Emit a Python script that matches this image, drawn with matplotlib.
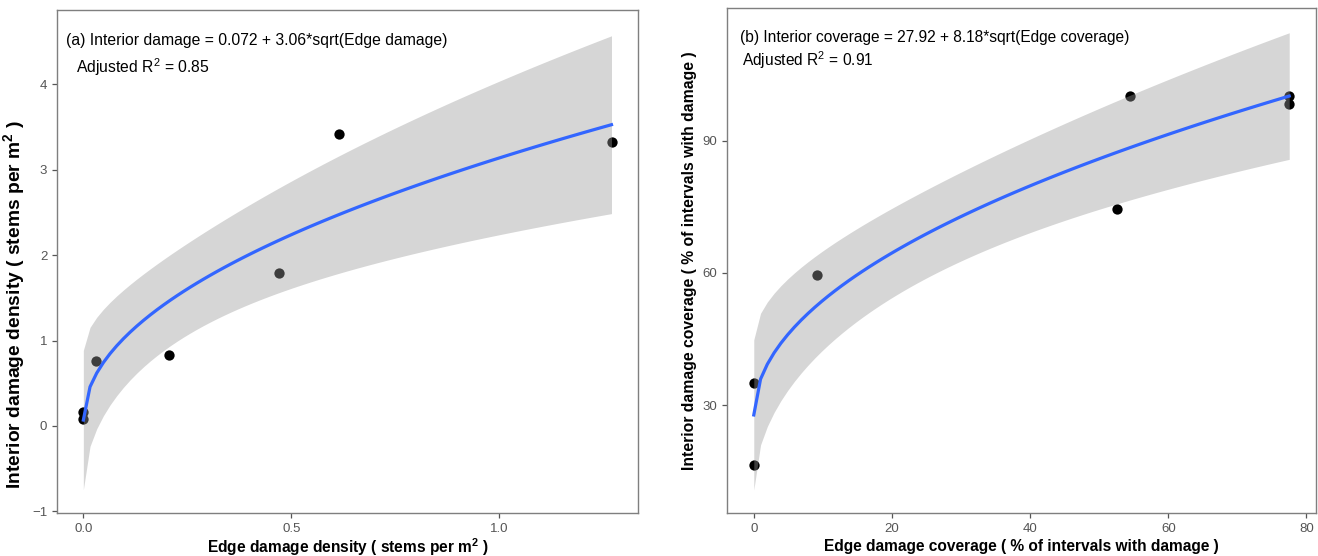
import matplotlib
matplotlib.use("Agg")
import matplotlib.pyplot as plt
import numpy as np

plt.rcParams['font.family'] = ['Liberation Sans', 'DejaVu Sans']
plt.rcParams['mathtext.fontset'] = 'custom'
plt.rcParams['mathtext.rm'] = 'Liberation Sans'
plt.rcParams['mathtext.default'] = 'regular'

# (a) damage density, stems per m2
edge_density = [0.0, 0.0, 0.03, 0.205, 0.47, 0.615, 1.27]
interior_density = [0.16, 0.08, 0.76, 0.83, 1.79, 3.42, 3.33]

# (b) damage coverage, % of intervals with damage
edge_cover = [0.0, 0.0, 9.2, 52.6, 54.5, 77.5, 77.5]
interior_cover = [35.0, 16.5, 59.5, 74.6, 100.2, 100.2, 98.4]

x_ticks_a = [0.0, 0.5, 1.0]
x_labels_a = ['0.0', '0.5', '1.0']
y_ticks_a = [-1, 0, 1, 2, 3, 4]
x_ticks_b = [0, 20, 40, 60, 80]
y_ticks_b = [30, 60, 90]

T975_DF5 = 2.5706  # t quantile, 95% CI, n=7 -> df=5


def sqrt_fit(x, y, n=80):
    # lm(y ~ sqrt(x)) with 95% confidence band, like geom_smooth
    x = np.asarray(x, float)
    y = np.asarray(y, float)
    X = np.column_stack([np.ones_like(x), np.sqrt(x)])
    beta, *_ = np.linalg.lstsq(X, y, rcond=None)
    resid = y - X @ beta
    s2 = resid @ resid / (len(x) - 2)
    cov = s2 * np.linalg.inv(X.T @ X)
    xg = np.linspace(x.min(), x.max(), n)
    Xg = np.column_stack([np.ones_like(xg), np.sqrt(xg)])
    yg = Xg @ beta
    se = np.sqrt(np.einsum('ij,jk,ik->i', Xg, cov, Xg))
    return xg, yg, yg - T975_DF5 * se, yg + T975_DF5 * se


def draw(ax, x, y):
    ax.scatter(x, y, s=55, color='black', zorder=2, linewidths=0)
    xg, yg, lo, hi = sqrt_fit(x, y)
    ax.fill_between(xg, lo, hi, color='#999999', alpha=0.4, lw=0, zorder=3)
    ax.plot(xg, yg, color='#3366FF', lw=2.3, zorder=4)
    for sp in ax.spines.values():
        sp.set_color('#7F7F7F')
        sp.set_linewidth(1.0)
    ax.tick_params(colors='#555555', labelsize=9.5, length=3.5, width=0.9)


fig = plt.figure(figsize=(13.18, 5.56), dpi=100)
ax1 = fig.add_axes([0.0432, 0.0773, 0.4408, 0.9047])
ax2 = fig.add_axes([0.5516, 0.0773, 0.4470, 0.9083])

draw(ax1, edge_density, interior_density)
ax1.set_xlim(-0.0635, 1.3335)
ax1.set_ylim(-1.02, 4.87)
ax1.set_xticks(x_ticks_a)
ax1.set_xticklabels(x_labels_a)
ax1.set_yticks(y_ticks_a)
ax1.set_xlabel('Edge damage density ( stems per m$^2$ )', fontsize=11.2, fontweight='bold', labelpad=1)
ax1.set_ylabel('Interior damage density ( stems per m$^2$ )', fontsize=13.9, fontweight='bold')
ax1.yaxis.set_label_coords(-0.052, 0.415)
ax1.text(0.016, 0.940, '(a) Interior damage = 0.072 + 3.06*sqrt(Edge damage)',
         transform=ax1.transAxes, fontsize=11.3, va='center')
ax1.text(0.033, 0.887, 'Adjusted R$^2$ = 0.85', transform=ax1.transAxes, fontsize=11.3, va='center')

draw(ax2, edge_cover, interior_cover)
ax2.set_xlim(-3.875, 81.4)
ax2.set_ylim(5.55, 120.1)
ax2.set_xticks(x_ticks_b)
ax2.set_yticks(y_ticks_b)
ax2.set_xlabel('Edge damage coverage ( % of intervals with damage )', fontsize=11.2, fontweight='bold', labelpad=3)
ax2.set_ylabel('Interior damage coverage ( % of intervals with damage )', fontsize=11.3, fontweight='bold', labelpad=4)
ax2.text(0.022, 0.942, '(b) Interior coverage = 27.92 + 8.18*sqrt(Edge coverage)',
         transform=ax2.transAxes, fontsize=11.2, va='center')
ax2.text(0.025, 0.897, 'Adjusted R$^2$ = 0.91', transform=ax2.transAxes, fontsize=11.2, va='center')

fig.savefig('out.png', dpi=100)
